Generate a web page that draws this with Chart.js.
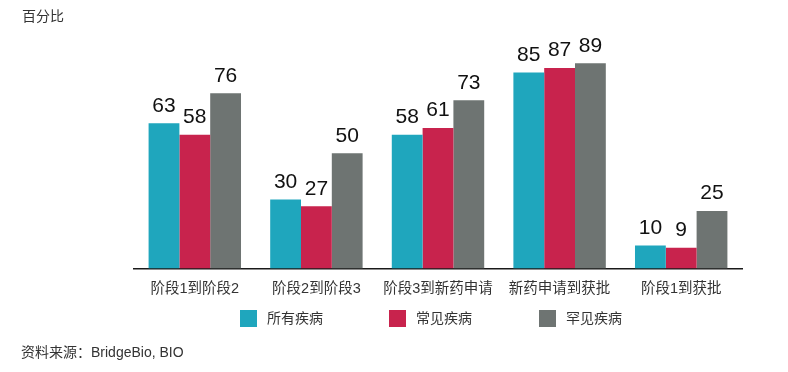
<!DOCTYPE html>
<html>
<head>
<meta charset="utf-8">
<script src="https://cdn.jsdelivr.net/npm/chart.js@4"></script>
<style>
  html, body { margin: 0; padding: 0; background: #fff; }
  #wrap { position: relative; width: 788px; height: 372px; }
  #c { position: absolute; left: 0; top: 0; }
  .txt { position: absolute; font-family: "Liberation Sans", "Noto Sans CJK SC", sans-serif; font-size: 14px; color: #333; white-space: nowrap; line-height: 16px; }
  #legend { position: absolute; left: 0; top: 310px; height: 17px; }
  .item { position: absolute; top: 0; height: 17px; }
  .box { position: absolute; left: 0; top: 0; width: 17px; height: 17px; }
  .item span { position: absolute; left: 27px; top: 0; font-family: "Liberation Sans", "Noto Sans CJK SC", sans-serif; font-size: 14px; color: #333; white-space: nowrap; line-height: 17px; }
</style>
</head>
<body>
<div id="wrap">
  <canvas id="c" width="788" height="372"></canvas>
  <div class="txt" style="left:22px; top:8px;">百分比</div>
  <div id="legend"></div>
  <div class="txt" style="left:21px; top:344px;">资料来源：BridgeBio, BIO</div>
</div>
<script>
const categories = ['阶段1到阶段2', '阶段2到阶段3', '阶段3到新药申请', '新药申请到获批', '阶段1到获批'];
const allDiseases = [63, 30, 58, 85, 10];
const commonDiseases = [58, 27, 61, 87, 9];
const rareDiseases = [76, 50, 73, 89, 25];
const seriesNames = ['所有疾病', '常见疾病', '罕见疾病'];
const seriesColors = ['#1fa6bd', '#c8234d', '#6e7472'];
const legendX = [240, 389, 539];

// numbers over the bars
const valueLabels = {
  id: 'valueLabels',
  afterDatasetsDraw(chart) {
    const ctx = chart.ctx;
    ctx.save();
    ctx.font = '21px "Liberation Sans", Arial, sans-serif';
    ctx.fillStyle = '#111';
    ctx.textAlign = 'center';
    ctx.textBaseline = 'bottom';
    chart.data.datasets.forEach((ds, i) => {
      chart.getDatasetMeta(i).data.forEach((bar, j) => {
        ctx.fillText(ds.data[j], bar.x, bar.y - 7);
      });
    });
    ctx.restore();
  }
};

var ctx = document.getElementById('c').getContext('2d');
var chart = new Chart(ctx, {
  type: 'bar',
  data: {
    labels: categories,
    datasets: [
      { label: seriesNames[0], data: allDiseases, backgroundColor: seriesColors[0] },
      { label: seriesNames[1], data: commonDiseases, backgroundColor: seriesColors[1] },
      { label: seriesNames[2], data: rareDiseases, backgroundColor: seriesColors[2] }
    ]
  },
  options: {
    responsive: false,
    animation: false,
    layout: { padding: { left: 134, right: 46, top: 38, bottom: 62 } },
    plugins: {
      legend: { display: false },
      tooltip: { enabled: false }
    },
    datasets: {
      bar: { categoryPercentage: 0.76, barPercentage: 1.0 }
    },
    scales: {
      x: {
        grid: { display: false, drawTicks: false },
        border: { display: true, color: '#1a1a1a', width: 1.5 },
        ticks: {
          padding: 12,
          color: '#333',
          font: { family: '"Liberation Sans", "Noto Sans CJK SC", sans-serif', size: 14.5 }
        }
      },
      y: {
        display: false,
        min: 0,
        max: 100
      }
    }
  },
  plugins: [valueLabels]
});

// legend from the datasets
const legend = document.getElementById('legend');
chart.data.datasets.forEach((ds, i) => {
  const item = document.createElement('div');
  item.className = 'item';
  item.style.left = legendX[i] + 'px';
  const box = document.createElement('div');
  box.className = 'box';
  box.style.background = ds.backgroundColor;
  const t = document.createElement('span');
  t.textContent = ds.label;
  item.appendChild(box);
  item.appendChild(t);
  legend.appendChild(item);
});
</script>
</body>
</html>
